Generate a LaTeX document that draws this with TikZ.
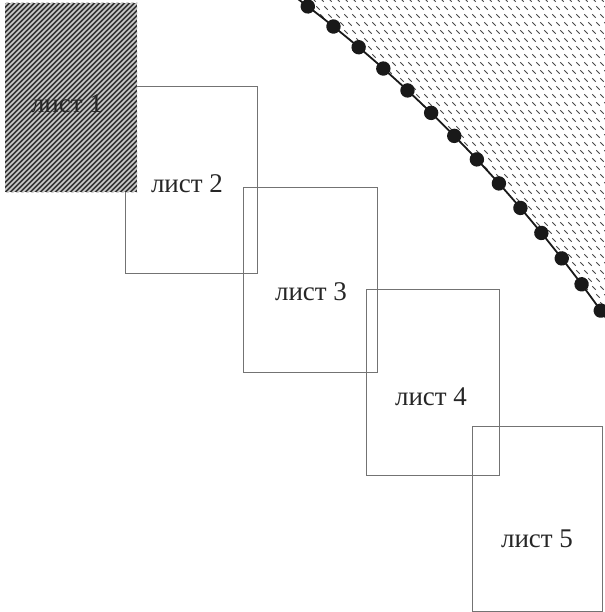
\documentclass[tikz,border=0pt]{standalone}
\usepackage{fontspec}
\setmainfont{Liberation Serif}
\usetikzlibrary{decorations.markings}
\begin{document}
\begin{tikzpicture}[x=1pt,y=-1pt,
  sheet/.style={draw=black!55, line width=0.7pt, inner sep=0pt, anchor=north west},
  lbl/.style={font=\fontsize{27}{30}\selectfont, anchor=base, inner sep=0pt, text=black!85},
  hatchdash/.style={draw=black!72, line width=1pt},
  boundary/.style={draw=black!90, line width=1.8pt}]
\useasboundingbox (0,0) rectangle (604,612);
% sheets 2-5 (outlines)
\node[sheet, minimum width=132pt, minimum height=187pt] (s2) at (125,86) {};
\node[sheet, minimum width=134pt, minimum height=185pt] (s3) at (243,187) {};
\node[sheet, minimum width=133pt, minimum height=186pt] (s4) at (366,289) {};
\node[sheet, minimum width=130pt, minimum height=185pt] (s5) at (472,426) {};
% sheet 1 (hatched)
\node[inner sep=0pt, anchor=north west, minimum width=132pt, minimum height=189pt] (s1) at (5,3) {};
\begin{scope}
  \clip (s1.north west) rectangle (s1.south east);
  \fill[black!80] (s1.north west) rectangle (s1.south east);
  \foreach \k in {-200,-195,...,150}
    \draw[white!80!black, line width=1.7pt] (\k,200) -- ++(210,-210);
\end{scope}
% curved boundary with hatched region
\coordinate (c0) at (296.6,-2);
\coordinate (c1) at (606,318);
\begin{scope}
  \clip (c0) .. controls (415.3,86.5) and (520.5,196.5) .. (c1) -- (606,-2) -- cycle;
  \foreach \j in {0,...,41}{
    \foreach \i in {0,...,40}{
      \pgfmathsetmacro\xx{290+8*\i+4*mod(\j,2)}
      \pgfmathsetmacro\yy{8*\j}
      \draw[hatchdash] (\xx-1.7,\yy-1.7) -- (\xx+1.7,\yy+1.7);
    }
  }
\end{scope}
\draw[boundary, postaction={decorate, decoration={markings,
   mark=between positions 14pt and 445pt step 32.6pt with {\fill[black!90] (0,0) circle (7.2pt);}}}]
  (c0) .. controls (415.3,86.5) and (520.5,196.5) .. (c1);
% labels
\node[lbl] (t1) at (67,113) {лист 1};
\node[lbl] (t2) at (187,193) {лист 2};
\node[lbl] (t3) at (311,300) {лист 3};
\node[lbl] (t4) at (431,405) {лист 4};
\node[lbl] (t5) at (537,547) {лист 5};
\end{tikzpicture}
\end{document}
